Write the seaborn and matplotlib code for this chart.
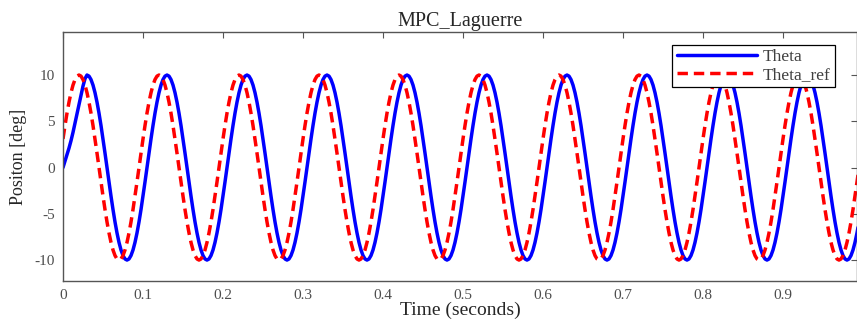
import numpy as np
import pandas as pd
import matplotlib
matplotlib.use("Agg")
import matplotlib.pyplot as plt
import seaborn as sns

sns.set_theme(style="white")
plt.rcParams['font.family'] = ['Liberation Serif', 'DejaVu Serif']
plt.rcParams['axes.unicode_minus'] = False

# ============================
# Data read off the picture (sampled every 2.5 ms)
# ============================
time_s = np.round(np.arange(0, 401) * 0.0025, 4)

theta_ref = [
    3.09, 4.54, 5.88, 7.07, 8.09, 8.91, 9.51, 9.88, 10, 9.88, 9.51, 8.91, 8.09, 7.07, 5.88, 4.54, 3.09, 1.56, 0, -1.56,
    -3.09, -4.54, -5.88, -7.07, -8.09, -8.91, -9.51, -9.88, -10, -9.88, -9.51, -8.91, -8.09, -7.07, -5.88, -4.54, -3.09, -1.56, 0, 1.56,
    3.09, 4.54, 5.88, 7.07, 8.09, 8.91, 9.51, 9.88, 10, 9.88, 9.51, 8.91, 8.09, 7.07, 5.88, 4.54, 3.09, 1.56, 0, -1.56,
    -3.09, -4.54, -5.88, -7.07, -8.09, -8.91, -9.51, -9.88, -10, -9.88, -9.51, -8.91, -8.09, -7.07, -5.88, -4.54, -3.09, -1.56, 0, 1.56,
    3.09, 4.54, 5.88, 7.07, 8.09, 8.91, 9.51, 9.88, 10, 9.88, 9.51, 8.91, 8.09, 7.07, 5.88, 4.54, 3.09, 1.56, 0, -1.56,
    -3.09, -4.54, -5.88, -7.07, -8.09, -8.91, -9.51, -9.88, -10, -9.88, -9.51, -8.91, -8.09, -7.07, -5.88, -4.54, -3.09, -1.56, 0, 1.56,
    3.09, 4.54, 5.88, 7.07, 8.09, 8.91, 9.51, 9.88, 10, 9.88, 9.51, 8.91, 8.09, 7.07, 5.88, 4.54, 3.09, 1.56, 0, -1.56,
    -3.09, -4.54, -5.88, -7.07, -8.09, -8.91, -9.51, -9.88, -10, -9.88, -9.51, -8.91, -8.09, -7.07, -5.88, -4.54, -3.09, -1.56, 0, 1.56,
    3.09, 4.54, 5.88, 7.07, 8.09, 8.91, 9.51, 9.88, 10, 9.88, 9.51, 8.91, 8.09, 7.07, 5.88, 4.54, 3.09, 1.56, 0, -1.56,
    -3.09, -4.54, -5.88, -7.07, -8.09, -8.91, -9.51, -9.88, -10, -9.88, -9.51, -8.91, -8.09, -7.07, -5.88, -4.54, -3.09, -1.56, 0, 1.56,
    3.09, 4.54, 5.88, 7.07, 8.09, 8.91, 9.51, 9.88, 10, 9.88, 9.51, 8.91, 8.09, 7.07, 5.88, 4.54, 3.09, 1.56, 0, -1.56,
    -3.09, -4.54, -5.88, -7.07, -8.09, -8.91, -9.51, -9.88, -10, -9.88, -9.51, -8.91, -8.09, -7.07, -5.88, -4.54, -3.09, -1.56, 0, 1.56,
    3.09, 4.54, 5.88, 7.07, 8.09, 8.91, 9.51, 9.88, 10, 9.88, 9.51, 8.91, 8.09, 7.07, 5.88, 4.54, 3.09, 1.56, 0, -1.56,
    -3.09, -4.54, -5.88, -7.07, -8.09, -8.91, -9.51, -9.88, -10, -9.88, -9.51, -8.91, -8.09, -7.07, -5.88, -4.54, -3.09, -1.56, 0, 1.56,
    3.09, 4.54, 5.88, 7.07, 8.09, 8.91, 9.51, 9.88, 10, 9.88, 9.51, 8.91, 8.09, 7.07, 5.88, 4.54, 3.09, 1.56, 0, -1.56,
    -3.09, -4.54, -5.88, -7.07, -8.09, -8.91, -9.51, -9.88, -10, -9.88, -9.51, -8.91, -8.09, -7.07, -5.88, -4.54, -3.09, -1.56, 0, 1.56,
    3.09, 4.54, 5.88, 7.07, 8.09, 8.91, 9.51, 9.88, 10, 9.88, 9.51, 8.91, 8.09, 7.07, 5.88, 4.54, 3.09, 1.56, 0, -1.56,
    -3.09, -4.54, -5.88, -7.07, -8.09, -8.91, -9.51, -9.88, -10, -9.88, -9.51, -8.91, -8.09, -7.07, -5.88, -4.54, -3.09, -1.56, 0, 1.56,
    3.09, 4.54, 5.88, 7.07, 8.09, 8.91, 9.51, 9.88, 10, 9.88, 9.51, 8.91, 8.09, 7.07, 5.88, 4.54, 3.09, 1.56, 0, -1.56,
    -3.09, -4.54, -5.88, -7.07, -8.09, -8.91, -9.51, -9.88, -10, -9.88, -9.51, -8.91, -8.09, -7.07, -5.88, -4.54, -3.09, -1.56, 0, 1.56,
    3.09,
]

theta = [
    0, 0.7, 1.4, 2.1, 2.9, 3.8, 4.8, 5.8, 6.8, 7.8, 8.8, 9.6, 10, 9.88, 9.51, 8.91, 8.09, 7.07, 5.88, 4.54,
    3.09, 1.56, 0, -1.56, -3.09, -4.54, -5.88, -7.07, -8.09, -8.91, -9.51, -9.88, -10, -9.88, -9.51, -8.91, -8.09, -7.07, -5.88, -4.54,
    -3.09, -1.56, 0, 1.56, 3.09, 4.54, 5.88, 7.07, 8.09, 8.91, 9.51, 9.88, 10, 9.88, 9.51, 8.91, 8.09, 7.07, 5.88, 4.54,
    3.09, 1.56, 0, -1.56, -3.09, -4.54, -5.88, -7.07, -8.09, -8.91, -9.51, -9.88, -10, -9.88, -9.51, -8.91, -8.09, -7.07, -5.88, -4.54,
    -3.09, -1.56, 0, 1.56, 3.09, 4.54, 5.88, 7.07, 8.09, 8.91, 9.51, 9.88, 10, 9.88, 9.51, 8.91, 8.09, 7.07, 5.88, 4.54,
    3.09, 1.56, 0, -1.56, -3.09, -4.54, -5.88, -7.07, -8.09, -8.91, -9.51, -9.88, -10, -9.88, -9.51, -8.91, -8.09, -7.07, -5.88, -4.54,
    -3.09, -1.56, 0, 1.56, 3.09, 4.54, 5.88, 7.07, 8.09, 8.91, 9.51, 9.88, 10, 9.88, 9.51, 8.91, 8.09, 7.07, 5.88, 4.54,
    3.09, 1.56, 0, -1.56, -3.09, -4.54, -5.88, -7.07, -8.09, -8.91, -9.51, -9.88, -10, -9.88, -9.51, -8.91, -8.09, -7.07, -5.88, -4.54,
    -3.09, -1.56, 0, 1.56, 3.09, 4.54, 5.88, 7.07, 8.09, 8.91, 9.51, 9.88, 10, 9.88, 9.51, 8.91, 8.09, 7.07, 5.88, 4.54,
    3.09, 1.56, 0, -1.56, -3.09, -4.54, -5.88, -7.07, -8.09, -8.91, -9.51, -9.88, -10, -9.88, -9.51, -8.91, -8.09, -7.07, -5.88, -4.54,
    -3.09, -1.56, 0, 1.56, 3.09, 4.54, 5.88, 7.07, 8.09, 8.91, 9.51, 9.88, 10, 9.88, 9.51, 8.91, 8.09, 7.07, 5.88, 4.54,
    3.09, 1.56, 0, -1.56, -3.09, -4.54, -5.88, -7.07, -8.09, -8.91, -9.51, -9.88, -10, -9.88, -9.51, -8.91, -8.09, -7.07, -5.88, -4.54,
    -3.09, -1.56, 0, 1.56, 3.09, 4.54, 5.88, 7.07, 8.09, 8.91, 9.51, 9.88, 10, 9.88, 9.51, 8.91, 8.09, 7.07, 5.88, 4.54,
    3.09, 1.56, 0, -1.56, -3.09, -4.54, -5.88, -7.07, -8.09, -8.91, -9.51, -9.88, -10, -9.88, -9.51, -8.91, -8.09, -7.07, -5.88, -4.54,
    -3.09, -1.56, 0, 1.56, 3.09, 4.54, 5.88, 7.07, 8.09, 8.91, 9.51, 9.88, 10, 9.88, 9.51, 8.91, 8.09, 7.07, 5.88, 4.54,
    3.09, 1.56, 0, -1.56, -3.09, -4.54, -5.88, -7.07, -8.09, -8.91, -9.51, -9.88, -10, -9.88, -9.51, -8.91, -8.09, -7.07, -5.88, -4.54,
    -3.09, -1.56, 0, 1.56, 3.09, 4.54, 5.88, 7.07, 8.09, 8.91, 9.51, 9.88, 10, 9.88, 9.51, 8.91, 8.09, 7.07, 5.88, 4.54,
    3.09, 1.56, 0, -1.56, -3.09, -4.54, -5.88, -7.07, -8.09, -8.91, -9.51, -9.88, -10, -9.88, -9.51, -8.91, -8.09, -7.07, -5.88, -4.54,
    -3.09, -1.56, 0, 1.56, 3.09, 4.54, 5.88, 7.07, 8.09, 8.91, 9.51, 9.88, 10, 9.88, 9.51, 8.91, 8.09, 7.07, 5.88, 4.54,
    3.09, 1.56, 0, -1.56, -3.09, -4.54, -5.88, -7.07, -8.09, -8.91, -9.51, -9.88, -10, -9.88, -9.51, -8.91, -8.09, -7.07, -5.88, -4.54,
    -3.09,
]

x_ticks = [0, 0.1, 0.2, 0.3, 0.4, 0.5, 0.6, 0.7, 0.8, 0.9]
x_ticklabels = ["0", "0.1", "0.2", "0.3", "0.4", "0.5", "0.6", "0.7", "0.8", "0.9"]
y_ticks = [-10, -5, 0, 5, 10]

df = pd.DataFrame({"t": time_s, "Theta": theta, "Theta_ref": theta_ref})

# ============================
# Plot
# ============================
fig = plt.figure(figsize=(8.57, 3.22), dpi=100)
ax = fig.add_axes([63 / 857, 0.128, (857 - 63) / 857, 0.7726])

sns.lineplot(data=df, x="t", y="Theta", ax=ax, color=(0, 0, 1), linewidth=2.5, label="Theta")
sns.lineplot(data=df, x="t", y="Theta_ref", ax=ax, color=(1, 0, 0), linewidth=2.5,
             linestyle=(0, (3, 1.7)), label="Theta_ref")

ax.set_xlim(0, 0.9925)
ax.set_ylim(-12.24, 14.65)
ax.set_xticks(x_ticks)
ax.set_xticklabels(x_ticklabels)
ax.set_yticks(y_ticks)

grey = "#555555"
for side in ["left", "bottom", "top", "right"]:
    ax.spines[side].set_color(grey)
    ax.spines[side].set_linewidth(1.0)
ax.tick_params(direction="in", top=True, right=True, length=4, width=0.8,
               colors=grey, labelsize=11, labelcolor="#4d4d4d", pad=6)

ax.set_title("MPC_Laguerre", fontsize=14.5, color="#262626", pad=4)
ax.set_xlabel("Time (seconds)", fontsize=14, color="#262626", labelpad=0)
ax.set_ylabel("Positon [deg]", fontsize=13, color="#262626", labelpad=5)

leg = ax.legend(loc="upper right", bbox_to_anchor=(0.972, 0.948), fontsize=12.5,
                frameon=True, fancybox=False, framealpha=1, borderpad=0.25, labelspacing=0.08,
                handlelength=4.6, handletextpad=0.35, borderaxespad=0)
leg.get_frame().set_edgecolor("black")
leg.get_frame().set_linewidth(0.9)
for txt in leg.get_texts():
    txt.set_color("#404040")

fig.savefig("out.png", dpi=100)
